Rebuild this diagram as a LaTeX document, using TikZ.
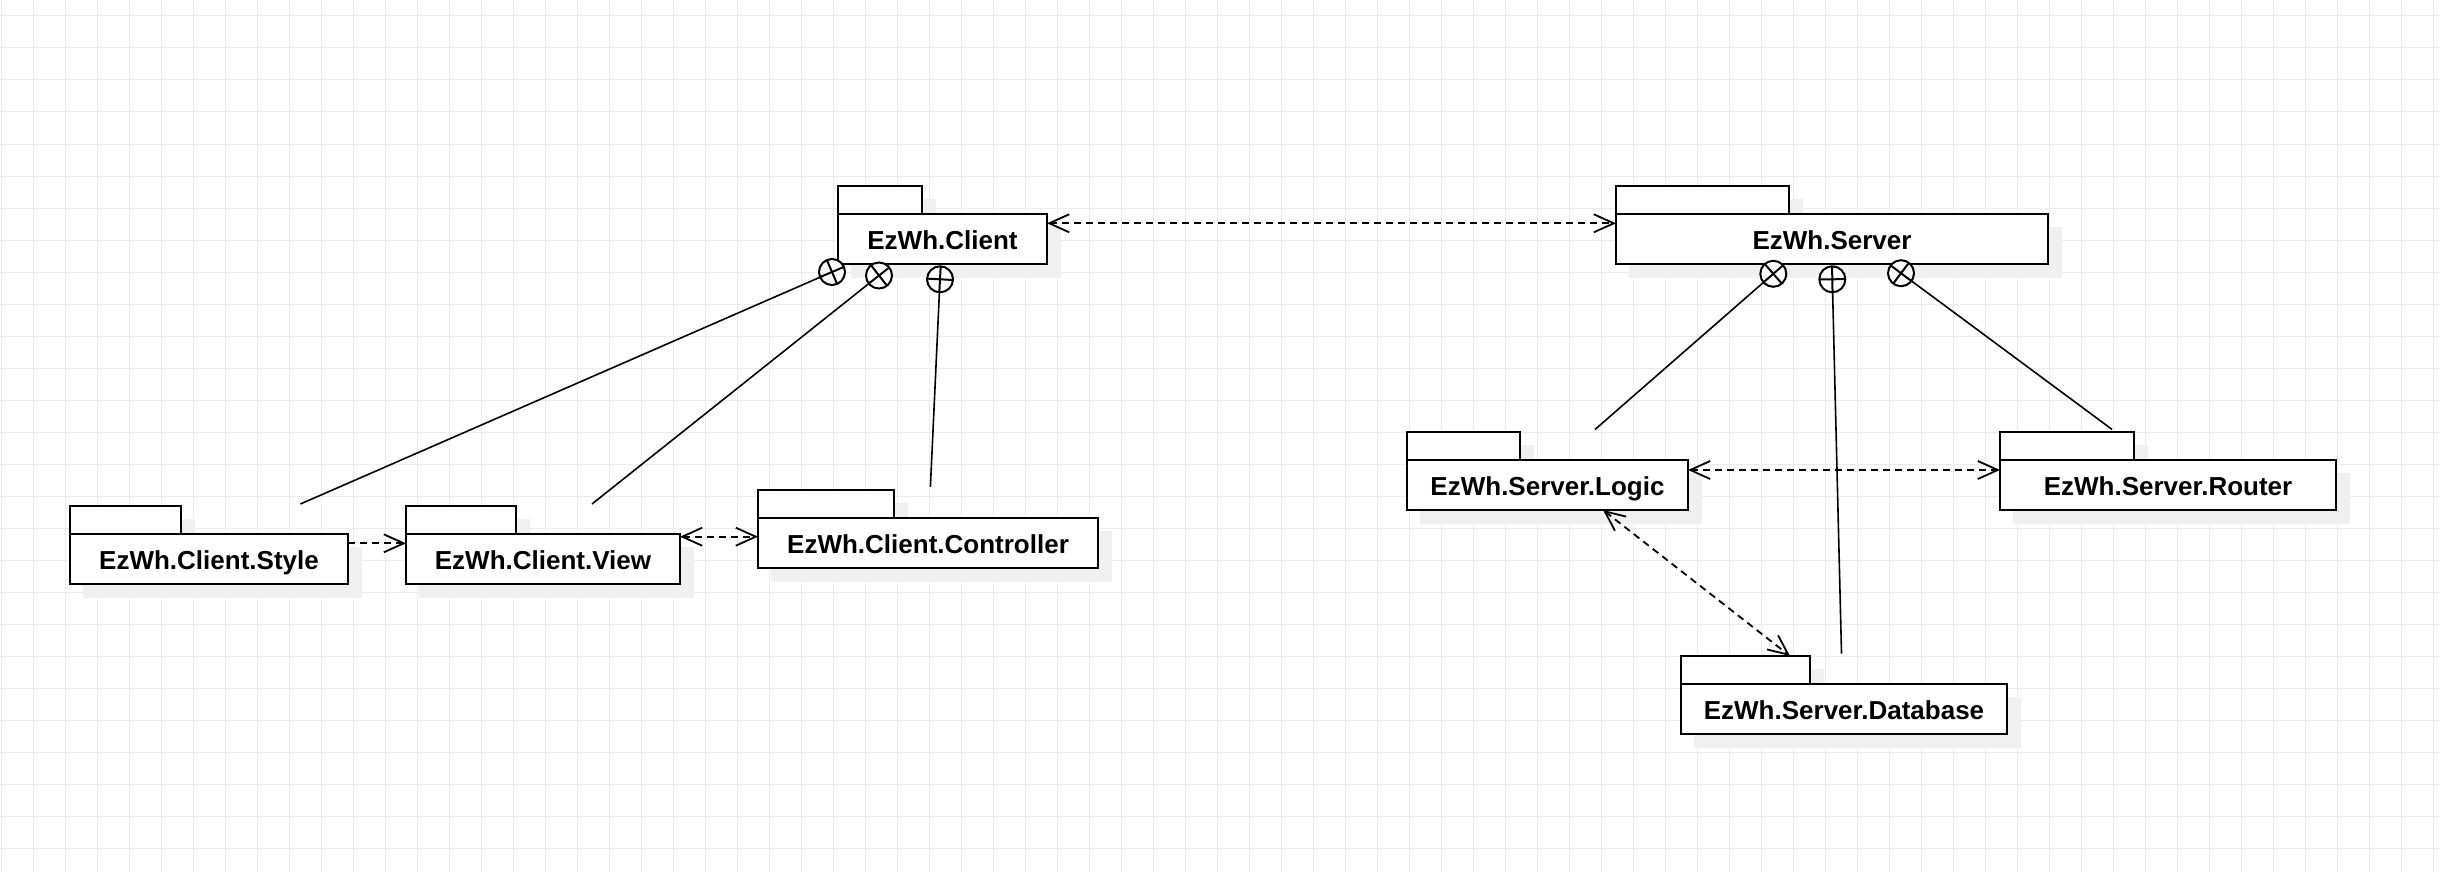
\documentclass[tikz,border=0pt]{standalone}
\usepackage{fontspec}
\setmainfont{Liberation Sans}
\usetikzlibrary{arrows.meta,calc}
\pgfdeclarelayer{gridlayer}
\pgfdeclarelayer{shadowlayer}
\pgfsetlayers{gridlayer,shadowlayer,main}
\definecolor{gridcol}{RGB}{236,236,236}
\definecolor{shadowcol}{RGB}{240,240,240}
\tikzset{
  pkgbody/.style={draw, line width=2pt, fill=white, anchor=north west, inner sep=0pt, outer sep=0pt,
    minimum height=50pt, text height=21pt, text depth=0pt, font=\fontsize{26}{30}\selectfont\bfseries},
  pkgtab/.style={draw, line width=2pt, fill=white, anchor=north west, inner sep=0pt, outer sep=0pt,
    minimum height=28pt},
  barb/.tip={Straight Barb[length=20pt,width=18pt,line width=1.8pt]},
  depone/.style={line width=1.8pt, dash pattern=on 7pt off 5pt, -barb},
  depboth/.style={line width=1.8pt, dash pattern=on 7pt off 5pt, barb-barb},
  nestline/.style={line width=1.6pt},
  nestcirc/.style={circle, draw, line width=2pt, fill=white, minimum size=26pt, inner sep=0pt, outer sep=0pt},
  plusarm/.style={line width=2pt},
  gridline/.style={gridcol, line width=1pt}
}
\begin{document}
\begin{tikzpicture}[x=1pt,y=-1pt]
\useasboundingbox (0,0) rectangle (2440,872);
\begin{pgfonlayer}{gridlayer}
  \fill[white] (0,0) rectangle (2440,872);
  \foreach \x in {1,33,...,2433} \draw[gridline] (\x,0) -- (\x,872);
  \foreach \y in {16,48,...,848} \draw[gridline] (0,\y) -- (2440,\y);
\end{pgfonlayer}

% packages
\node[pkgtab, minimum width=84pt] (clienttab) at (838,186) {};
\node[pkgbody, minimum width=209pt] (client) at (838,214) {EzWh.Client};
\node[pkgtab, minimum width=173pt] (servertab) at (1616,186) {};
\node[pkgbody, minimum width=432pt] (server) at (1616,214) {EzWh.Server};

\node[pkgtab, minimum width=111pt] (styletab) at (70,506) {};
\node[pkgbody, minimum width=278pt] (style) at (70,534) {EzWh.Client.Style};
\node[pkgtab, minimum width=110pt] (viewtab) at (406,506) {};
\node[pkgbody, minimum width=274pt] (view) at (406,534) {EzWh.Client.View};
\node[pkgtab, minimum width=136pt] (ctrltab) at (758,490) {};
\node[pkgbody, minimum width=340pt] (ctrl) at (758,518) {EzWh.Client.Controller};

\node[pkgtab, minimum width=113pt] (logictab) at (1407,432) {};
\node[pkgbody, minimum width=281pt] (logic) at (1407,460) {EzWh.Server.Logic};
\node[pkgtab, minimum width=134pt] (routertab) at (2000,432) {};
\node[pkgbody, minimum width=336pt] (router) at (2000,460) {EzWh.Server.Router};
\node[pkgtab, minimum width=129pt] (dbtab) at (1681,656) {};
\node[pkgbody, minimum width=326pt] (db) at (1681,684) {EzWh.Server.Database};

\begin{pgfonlayer}{shadowlayer}
  \foreach \n in {clienttab,client,servertab,server,styletab,style,viewtab,view,ctrltab,ctrl,
                  logictab,logic,routertab,router,dbtab,db}
    \fill[shadowcol] ([shift={(13,13)}]\n.north west) rectangle ([shift={(14,14)}]\n.south east);
\end{pgfonlayer}

% dependencies
\draw[depboth] ([yshift=-9.3pt]client.north east) -- ([yshift=-9.3pt]server.north west);
\draw[depone] ([yshift=-9.3pt]style.north east) -- ([yshift=-9.3pt]view.north west);
\draw[depboth] ([yshift=-2.7pt]view.north east) -- ([yshift=-18.7pt]ctrl.north west);
\draw[depboth] ([yshift=-10pt]logic.north east) -- ([yshift=-10pt]router.north west);
\draw[depboth] ([xshift=196pt]logic.south west) -- ([xshift=109pt]dbtab.north west);

% nesting connectors
\coordinate (stylesrc) at (300.4,504);
\coordinate (viewsrc) at (592,504);
\coordinate (ctrlsrc) at (930.4,487);
\coordinate (logicsrc) at (1595,429.5);
\coordinate (dbsrc) at (1841.5,653.5);
\coordinate (routersrc) at (2112,429.4);

\node[nestcirc] (c1) at (832,272) {};
\node[nestcirc] (c2) at (879,275.5) {};
\node[nestcirc] (c3) at (940,279.3) {};
\node[nestcirc] (s1) at (1773.3,273.8) {};
\node[nestcirc] (s2) at (1832.3,279.3) {};
\node[nestcirc] (s3) at (1901,273.2) {};

\draw[nestline] (stylesrc) -- (c1);
\draw[nestline] (viewsrc) -- (c2);
\draw[nestline] (ctrlsrc) -- (c3);
\draw[nestline] (logicsrc) -- (s1);
\draw[nestline] (dbsrc) -- (s2);
\draw[nestline] (routersrc) -- (s3);

\draw[plusarm] (c1.23.6) -- (c1.203.6); \draw[plusarm] (c1.113.6) -- (c1.293.6);
\draw[plusarm] (c2.38.5) -- (c2.218.5); \draw[plusarm] (c2.128.5) -- (c2.308.5);
\draw[plusarm] (c3.87.4) -- (c3.267.4); \draw[plusarm] (c3.177.4) -- (c3.357.4);
\draw[plusarm] (s1.41.1) -- (s1.221.1); \draw[plusarm] (s1.131.1) -- (s1.311.1);
\draw[plusarm] (s2.91.4) -- (s2.271.4); \draw[plusarm] (s2.1.4) -- (s2.181.4);
\draw[plusarm] (s3.143.5) -- (s3.323.5); \draw[plusarm] (s3.53.5) -- (s3.233.5);
\end{tikzpicture}
\end{document}
